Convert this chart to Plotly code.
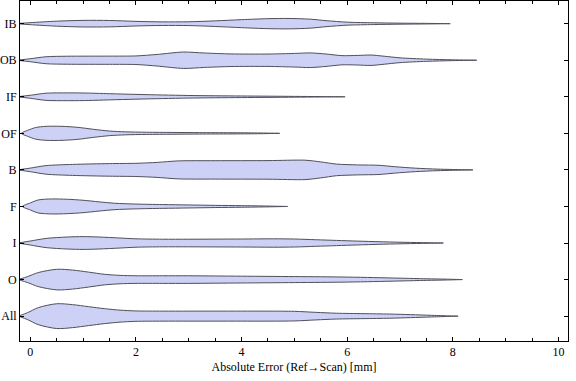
import plotly.graph_objects as go

# Categories (bottom to top)
categories = ["All", "O", "I", "F", "B", "OF", "IF", "OB", "IB"]

# Density profiles: x positions [mm] and half-width densities (px-scale units)
x_All = [-0.2, -0.05, 0.15, 0.5, 0.8, 1.1, 1.4, 1.7, 2.0, 2.5, 3.0, 3.5, 4.0, 4.5, 5.0, 5.4, 5.8, 6.3, 6.8, 7.2, 7.6, 8.1]
d_All = [0.5, 3.5, 8.5, 12.4, 11.5, 9.5, 7.5, 6.0, 5.2, 5.0, 5.0, 5.0, 5.0, 5.0, 4.8, 3.8, 2.9, 2.5, 2.1, 1.5, 0.8, 0.0]

x_O = [-0.2, -0.05, 0.15, 0.5, 0.8, 1.1, 1.4, 1.7, 2.0, 2.5, 3.0, 3.5, 4.0, 4.5, 5.0, 5.5, 6.0, 6.5, 7.0, 7.5, 7.9, 8.18]
d_O = [0.5, 3.0, 7.0, 10.3, 9.5, 7.5, 5.3, 4.2, 3.8, 3.8, 3.8, 3.6, 3.4, 3.2, 3.0, 2.8, 2.5, 2.0, 1.4, 0.8, 0.4, 0.0]

x_I = [-0.2, 0.0, 0.3, 0.7, 1.0, 1.3, 1.7, 2.0, 2.5, 3.0, 3.5, 4.0, 4.6, 5.0, 5.4, 5.8, 6.2, 6.6, 7.0, 7.4, 7.82]
d_I = [0.3, 2.0, 4.6, 6.0, 6.4, 6.0, 5.0, 4.2, 3.8, 3.8, 3.9, 4.0, 4.2, 4.0, 3.3, 2.6, 1.9, 1.3, 0.8, 0.4, 0.0]

x_F = [-0.15, 0.0, 0.15, 0.4, 0.7, 1.0, 1.3, 1.6, 2.0, 2.5, 3.0, 3.5, 4.0, 4.5, 4.87]
d_F = [0.0, 3.5, 6.5, 7.5, 7.2, 6.2, 4.6, 3.2, 2.4, 1.9, 1.5, 1.1, 0.8, 0.4, 0.0]

x_B = [-0.2, 0.0, 0.3, 0.8, 1.5, 2.0, 2.4, 2.8, 3.5, 4.5, 5.2, 5.5, 5.8, 6.2, 6.6, 6.9, 7.3, 7.7, 8.0, 8.38]
d_B = [0.3, 1.8, 4.3, 5.5, 6.3, 6.6, 7.5, 9.0, 9.2, 9.3, 9.7, 8.0, 5.8, 5.0, 4.6, 3.2, 1.7, 0.8, 0.4, 0.0]

x_OF = [-0.17, -0.05, 0.1, 0.3, 0.6, 0.9, 1.2, 1.5, 1.8, 2.2, 2.7, 3.2, 3.8, 4.3, 4.72]
d_OF = [0.0, 3.0, 5.8, 7.0, 7.0, 6.0, 4.0, 2.3, 1.5, 1.1, 0.9, 0.7, 0.6, 0.4, 0.0]

x_IF = [-0.2, 0.0, 0.3, 0.7, 1.0, 1.5, 2.0, 2.5, 3.0, 3.5, 4.0, 4.5, 5.0, 5.5, 5.96]
d_IF = [0.3, 1.5, 3.6, 3.9, 3.8, 3.1, 2.4, 1.8, 1.3, 1.0, 0.8, 0.6, 0.4, 0.2, 0.0]

x_OB = [-0.2, 0.0, 0.3, 0.7, 1.5, 2.0, 2.4, 2.9, 3.3, 3.8, 4.5, 5.0, 5.3, 5.6, 5.9, 6.2, 6.45, 6.7, 7.0, 7.5, 8.0, 8.45]
d_OB = [0.3, 1.5, 3.5, 4.0, 4.1, 4.3, 5.8, 8.2, 7.2, 6.3, 6.2, 6.8, 7.3, 6.2, 4.6, 4.8, 5.2, 4.0, 2.4, 1.1, 0.4, 0.0]

x_IB = [-0.2, 0.0, 0.5, 1.0, 1.5, 2.0, 2.5, 3.0, 3.5, 4.0, 4.5, 4.9, 5.3, 5.6, 6.0, 6.5, 7.0, 7.5, 7.95]
d_IB = [0.3, 1.0, 2.5, 3.3, 3.2, 2.3, 1.8, 1.9, 2.8, 4.0, 5.0, 5.2, 4.5, 3.0, 1.5, 0.9, 0.5, 0.3, 0.0]

profiles = {
    "All": (x_All, d_All), "O": (x_O, d_O), "I": (x_I, d_I), "F": (x_F, d_F),
    "B": (x_B, d_B), "OF": (x_OF, d_OF), "IF": (x_IF, d_IF), "OB": (x_OB, d_OB),
    "IB": (x_IB, d_IB),
}

x_ticks = [0, 2, 4, 6, 8, 10]
x_title = "Absolute Error (Ref\u2192Scan) [mm]"

SCALE = 1 / 36.56  # density units -> category spacing
FILL = "rgb(204,209,245)"
EDGE = "rgb(80,80,90)"
FONT = "Liberation Serif, Times New Roman, serif"
X_RANGE = [-0.195, 10.18]

fig = go.Figure()
for i, cat in enumerate(categories):
    xs, ds = profiles[cat]
    upper = [i + d * SCALE for d in ds]
    lower = [i - d * SCALE for d in ds]
    fig.add_trace(go.Scatter(
        x=list(xs) + list(xs)[::-1],
        y=upper + lower[::-1],
        mode="lines",
        fill="toself",
        fillcolor=FILL,
        line=dict(color=EDGE, width=1, shape="spline", smoothing=0.8),
        hoverinfo="skip",
        showlegend=False,
    ))

# invisible trace to anchor the top (mirrored) axis with minor ticks
fig.add_trace(go.Scatter(x=[None], y=[None], xaxis="x2", yaxis="y",
                         mode="markers", showlegend=False, hoverinfo="skip"))

tick_common = dict(
    range=X_RANGE, tickvals=x_ticks,
    ticks="inside", ticklen=4, tickcolor="black", tickwidth=1,
    minor=dict(dtick=0.5, ticks="inside", ticklen=3, tickcolor="black", tickwidth=1),
    showgrid=False, zeroline=False, automargin=False,
)

fig.update_layout(
    width=576, height=381,
    margin=dict(l=20, r=8, t=1, b=40, autoexpand=False),
    paper_bgcolor="white", plot_bgcolor="white",
    font=dict(family=FONT, size=12, color="black"),
    showlegend=False,
    xaxis=dict(
        **tick_common,
        ticktext=[str(v) for v in x_ticks],
        showline=True, linecolor="black", linewidth=1, mirror=True,
        title=dict(text=x_title, standoff=4, font=dict(family=FONT, size=12)),
        tickfont=dict(family=FONT, size=12),
    ),
    xaxis2=dict(
        **tick_common,
        overlaying="x", side="top", anchor="y",
        showticklabels=False, showline=False,
    ),
    yaxis=dict(
        range=[-0.68, 8.62],
        tickvals=list(range(len(categories))), ticktext=categories,
        ticks="inside", ticklen=4, tickcolor="black", tickwidth=1,
        showline=True, linecolor="black", linewidth=1, mirror="ticks",
        showgrid=False, zeroline=False, automargin=False,
        tickfont=dict(family=FONT, size=12),
    ),
)

fig.write_html(
    "out.html",
    config={"displayModeBar": False},
    post_script="document.body.style.margin='0';document.body.style.padding='0';",
)
